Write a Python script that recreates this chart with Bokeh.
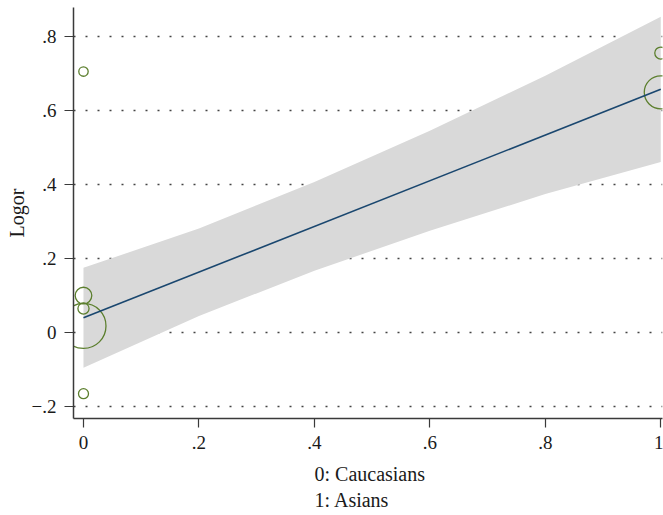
from bokeh.plotting import figure
from bokeh.models import Range1d, FixedTicker, CustomJSTickFormatter, Title, ColumnDataSource
from bokeh.embed import file_html
from bokeh.resources import INLINE
import numpy as np

# ---- data ----
ethnicity = [0, 0, 0, 0, 0, 1, 1]            # 0: Caucasians, 1: Asians
logor = [0.705, 0.100, 0.065, 0.018, -0.165, 0.755, 0.649]
weight = [22, 69, 31, 506, 25, 36, 272]     # study weights (bubble area)

fit_x = [0.0, 1.0]
fit_y = [0.040, 0.657]

band_x = [0.0, 0.2, 0.4, 0.6, 0.8, 1.0]
band_upper = [0.175, 0.281, 0.407, 0.545, 0.694, 0.853]
band_lower = [-0.095, 0.045, 0.167, 0.275, 0.374, 0.461]

x_ticks = [0, 0.2, 0.4, 0.6, 0.8, 1]
y_ticks = [-0.2, 0, 0.2, 0.4, 0.6, 0.8]
x_title_lines = ["0: Caucasians", "1: Asians"]
y_title = "Logor"

FONT = "Liberation Serif"
AXIS_COLOR = "#3a3a3a"
TXT = "#1a1a1a"

p = figure(width=663, height=515, output_backend="svg", toolbar_location=None,
           x_range=Range1d(-0.0173, 1.003), y_range=Range1d(-0.232, 0.878),
           min_border_left=73, min_border_right=1, min_border_top=7, min_border_bottom=97)
p.outline_line_color = None
p.background_fill_color = "white"
p.border_fill_color = "white"

p.varea(x=band_x, y1=band_lower, y2=band_upper, fill_color="#d9d9d9", fill_alpha=1.0)

src = ColumnDataSource(dict(x=ethnicity, y=logor, d=[2 * np.sqrt(w) for w in weight]))
p.scatter(x="x", y="y", size="d", source=src, marker="circle", fill_color=None,
          line_color="#5c7f2e", line_width=1.3)

p.line(fit_x, fit_y, line_color="#1a476f", line_width=1.6)

fmt = CustomJSTickFormatter(code="""
var t = Math.round(tick*10)/10;
if (t === 0) return "0";
var s = Math.abs(t).toString();
if (s.charAt(0) === "0") s = s.slice(1);
return (t < 0 ? "\u2212" : "") + s;
""")

for ax in (p.xaxis[0], p.yaxis[0]):
    ax.formatter = fmt
    ax.major_label_text_font = FONT
    ax.major_label_text_font_size = "19px"
    ax.major_label_text_color = TXT
    ax.axis_line_color = AXIS_COLOR
    ax.axis_line_width = 1.5
    ax.major_tick_line_color = AXIS_COLOR
    ax.major_tick_line_width = 1.2
    ax.major_tick_out = 9
    ax.major_tick_in = 0
    ax.minor_tick_line_color = None
    ax.major_label_standoff = 8

p.xaxis[0].ticker = FixedTicker(ticks=x_ticks)
p.yaxis[0].ticker = FixedTicker(ticks=y_ticks)
p.yaxis[0].major_label_orientation = "horizontal"

p.xgrid.grid_line_color = None
p.ygrid.grid_line_color = "#444444"
p.ygrid.grid_line_dash = "2 10"
p.ygrid.grid_line_width = 1.3

# y title on the left, rotated
p.add_layout(Title(text=y_title, align="center", text_font=FONT, text_font_size="20px",
                   text_font_style="normal", text_color=TXT, standoff=2), "left")

# two-line x title, lines left-aligned
for i, txt in enumerate(x_title_lines):
    p.add_layout(Title(text=txt, align="left", offset=241, text_font=FONT,
                       text_font_size="20px", text_font_style="normal", text_color=TXT,
                       standoff=(3 if i == 0 else 0),
                       padding=dict(top=(8 if i == 0 else 0), bottom=0, left=0, right=0)),
                 "below")

open("out.html", "w").write(file_html(p, INLINE))
